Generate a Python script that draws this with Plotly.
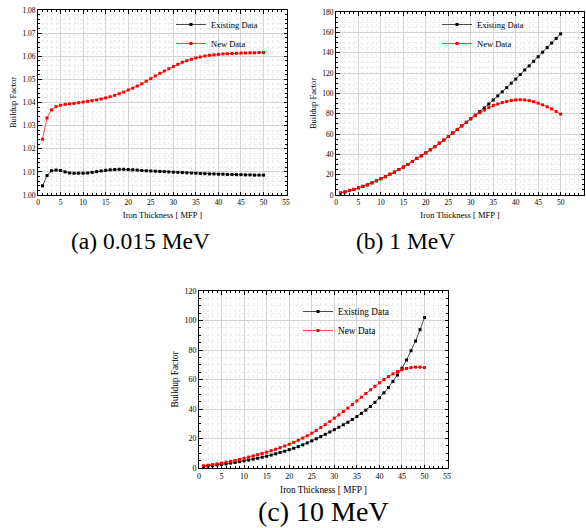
import plotly.graph_objects as go

thickness = [1, 2, 3, 4, 5, 6, 7, 8, 9, 10, 11, 12, 13, 14, 15, 16, 17, 18, 19, 20,
             21, 22, 23, 24, 25, 26, 27, 28, 29, 30, 31, 32, 33, 34, 35, 36, 37, 38, 39, 40,
             41, 42, 43, 44, 45, 46, 47, 48, 49, 50]

a_existing = [1.0040, 1.0084, 1.0105, 1.0108, 1.0106, 1.0100, 1.0095, 1.0094, 1.0094, 1.0094,
              1.0095, 1.0098, 1.0101, 1.0104, 1.0107, 1.0109, 1.0110, 1.0111, 1.0111, 1.0110,
              1.0109, 1.0108, 1.0106, 1.0105, 1.0104, 1.0103, 1.0102, 1.0101, 1.0100, 1.0099,
              1.0098, 1.0097, 1.0096, 1.0095, 1.0094, 1.0093, 1.0092, 1.0091, 1.0091, 1.0090,
              1.0090, 1.0089, 1.0089, 1.0088, 1.0088, 1.0087, 1.0087, 1.0086, 1.0086, 1.0086]
a_new = [1.0241, 1.0333, 1.0368, 1.0382, 1.0388, 1.0392, 1.0394, 1.0396, 1.0399, 1.0402,
         1.0405, 1.0408, 1.0411, 1.0415, 1.0420, 1.0425, 1.0431, 1.0438, 1.0445, 1.0454,
         1.0462, 1.0471, 1.0481, 1.0492, 1.0503, 1.0515, 1.0526, 1.0536, 1.0546, 1.0556,
         1.0565, 1.0574, 1.0581, 1.0587, 1.0593, 1.0597, 1.0601, 1.0604, 1.0606, 1.0608,
         1.0610, 1.0611, 1.0612, 1.0613, 1.0614, 1.0614, 1.0615, 1.0615, 1.0616, 1.0616]

b_existing = [2, 3, 4.5, 5.5, 7, 8.5, 10, 12, 14, 16,
              18, 20.5, 22.5, 25, 27.5, 30, 33, 36, 38.5, 41.5,
              44.5, 47.5, 51, 54, 57.5, 61, 64.5, 68, 71.5, 75,
              78.5, 82, 85.5, 89.5, 93.5, 97.5, 101.5, 105.5, 110, 114,
              118.5, 123, 127, 131.5, 136, 140.5, 145, 149.5, 154, 158.5]
b_new = [2, 3, 4.5, 5.5, 7, 8.5, 10, 12, 14, 16,
         18, 20.5, 22.5, 25, 27.5, 30, 33, 36, 38.5, 41.5,
         44.5, 47.5, 51, 54, 57.5, 61, 64.5, 68, 71.5, 75,
         78, 81, 83.5, 86, 88, 89.5, 91, 92, 93, 93.5,
         93.7, 93.5, 92.8, 91.8, 90.3, 88.7, 86.8, 84.7, 82.2, 79.5]

c_existing = [1.0, 1.3, 1.6, 2.0, 2.4, 2.8, 3.3, 3.8, 4.3, 4.8,
              5.4, 6.0, 6.6, 7.3, 8.0, 8.8, 9.6, 10.5, 11.4, 12.4,
              13.4, 14.5, 15.7, 17.0, 18.4, 19.8, 21.3, 22.8, 24.4, 26.0,
              27.6, 29.3, 31.0, 32.9, 34.9, 37.0, 39.2, 41.7, 44.5, 47.6,
              51.0, 54.6, 58.7, 63.0, 67.6, 73.2, 79.5, 86.0, 93.8, 102.0]
c_new = [1.5, 1.9, 2.3, 2.8, 3.3, 3.9, 4.5, 5.1, 5.8, 6.6,
         7.4, 8.2, 9.0, 9.8, 10.7, 11.7, 12.7, 13.8, 14.9, 16.1,
         17.4, 18.8, 20.3, 21.9, 23.6, 25.4, 27.4, 29.4, 31.5, 33.8,
         36.0, 38.3, 40.6, 43.0, 45.5, 48.0, 50.5, 53.0, 55.4, 57.8,
         60.0, 62.0, 63.8, 65.4, 66.6, 67.5, 68.1, 68.4, 68.4, 68.1]

series_names = ["Existing Data", "New Data"]
captions = ["(a) 0.015 MeV", "(b) 1 MeV", "(c) 10 MeV"]
x_title = "Iron Thickness [ MFP ]"
y_title = "Buildup Factor"

W, H = 586, 528
SERIF = "Liberation Serif"
BLACK = "#000000"
RED = "#ff0000"

panels = [
    dict(data=(a_existing, a_new), xdom=(38, 287), ydom=(10, 195), yrange=(1.00, 1.08),
         dtick=0.01, fmt=".2f", legend=(171, 10), caption=(140, 241),
         tick=7.5, title=8.5, cap=23.5),
    dict(data=(b_existing, b_new), xdom=(336, 584), ydom=(12, 195), yrange=(0, 180),
         dtick=20, fmt="d", legend=(437, 10), caption=(405, 241),
         tick=7.5, title=8.5, cap=23.5),
    dict(data=(c_existing, c_new), xdom=(199, 448), ydom=(291, 468), yrange=(0, 120),
         dtick=20, fmt="d", legend=(298, 297), caption=(323, 511),
         tick=8, title=9.3, cap=28),
]

fig = go.Figure()
layout = dict(width=W, height=H, margin=dict(l=0, r=0, t=0, b=0, autoexpand=False),
              paper_bgcolor="white", plot_bgcolor="white",
              font=dict(family=SERIF, color="black"), annotations=[])

for i, p in enumerate(panels):
    k = "" if i == 0 else str(i + 1)
    leg = "legend" if i == 0 else "legend" + str(i + 1)
    for vals, name, col in zip(p["data"], series_names, (BLACK, RED)):
        fig.add_trace(go.Scatter(
            x=thickness, y=vals, name=name, mode="lines+markers",
            line=dict(color=col, width=0.7),
            marker=dict(symbol="square", size=3, color=col),
            xaxis="x" + k, yaxis="y" + k, legend=leg))
    x0, x1 = p["xdom"]
    y0, y1 = p["ydom"]
    common = dict(showline=True, linecolor="black", linewidth=1, mirror="ticks",
                  ticks="inside", ticklen=3.5, tickcolor="black", tickwidth=1,
                  showgrid=True, gridcolor="#d4d4d4", gridwidth=1, zeroline=False,
                  automargin=False,
                  tickfont=dict(size=p["tick"], family=SERIF),
                  minor=dict(ticks="inside", ticklen=2, tickcolor="black", showgrid=True,
                             gridcolor="#ececec", griddash="dot", gridwidth=1))
    layout["xaxis" + k] = dict(domain=[x0 / W, x1 / W], range=[0, 55.2], dtick=5, tick0=0,
                               anchor="y" + k,
                               title=dict(text=x_title, font=dict(size=p["title"], family=SERIF), standoff=6),
                               **common)
    layout["yaxis" + k] = dict(domain=[1 - y1 / H, 1 - y0 / H], range=list(p["yrange"]),
                               dtick=p["dtick"], tickformat=p["fmt"], anchor="x" + k,
                               title=dict(text=y_title, font=dict(size=p["title"], family=SERIF), standoff=4),
                               **common)
    lx, ly = p["legend"]
    layout[leg] = dict(x=lx / W, y=1 - ly / H, xanchor="left", yanchor="top",
                       bgcolor="rgba(0,0,0,0)", borderwidth=0,
                       font=dict(size=p["title"], family=SERIF), itemwidth=30, tracegroupgap=0)
    cx, cy = p["caption"]
    layout["annotations"].append(dict(text=captions[i], x=cx / W, y=1 - cy / H,
                                      xref="paper", yref="paper", showarrow=False,
                                      xanchor="center", yanchor="middle",
                                      font=dict(size=p["cap"], family=SERIF, color="black")))

fig.update_layout(**layout)
fig.write_html("out.html", config={"displayModeBar": False},
               post_script="document.body.style.margin='0';document.body.style.overflow='hidden';")
